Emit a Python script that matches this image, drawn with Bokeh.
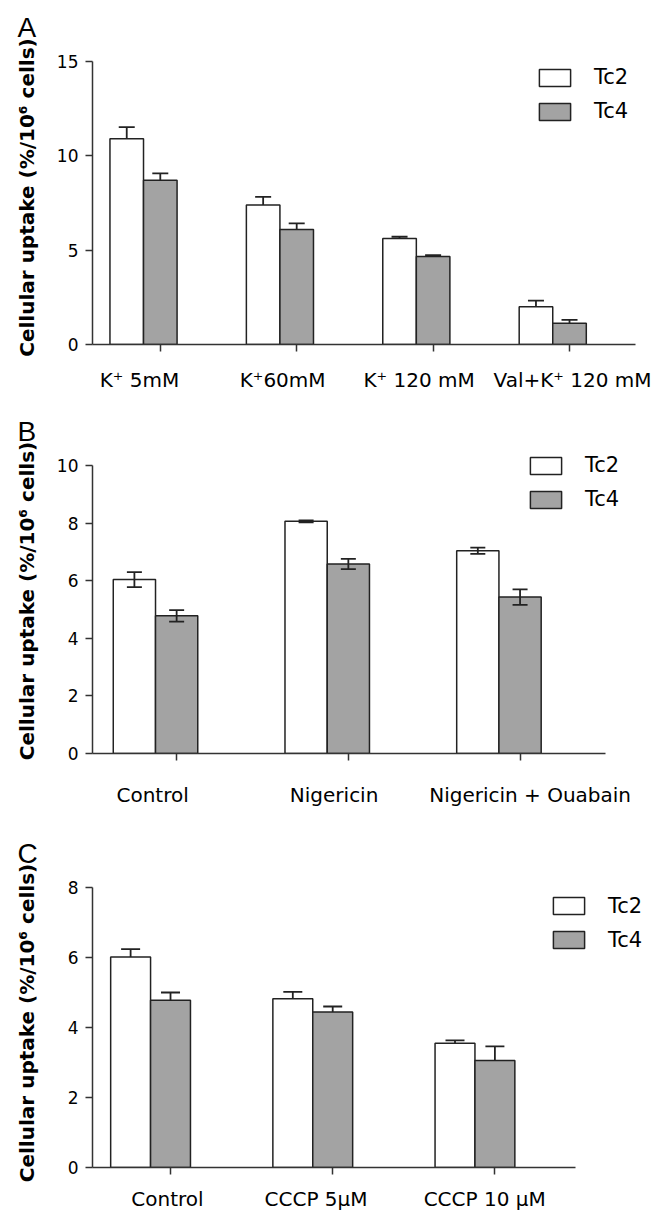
import numpy as np
from bokeh.plotting import figure
from bokeh.models import (ColumnDataSource, Whisker, TeeHead, FixedTicker, LinearAxis,
                          Range1d, Legend, LegendItem)
from bokeh.layouts import column
from bokeh.embed import file_html
from bokeh.resources import INLINE

# ---------------- data ----------------
series_names = ["Tc2", "Tc4"]

a_labels = ["K⁺ 5mM", "K⁺60mM", "K⁺ 120 mM", "Val+K⁺ 120 mM"]
a_tc2 = [10.9, 7.4, 5.62, 2.0]
a_tc2_err = [0.62, 0.42, 0.09, 0.33]
a_tc4 = [8.7, 6.09, 4.67, 1.12]
a_tc4_err = [0.37, 0.33, 0.06, 0.19]
a_yticks = [0, 5, 10, 15]

b_labels = ["Control", "Nigericin", "Nigericin +  Ouabain"]
b_tc2 = [6.04, 8.06, 7.04]
b_tc2_err = [0.26, 0.03, 0.11]
b_tc4 = [4.78, 6.58, 5.43]
b_tc4_err = [0.20, 0.18, 0.27]
b_yticks = [0, 2, 4, 6, 8, 10]

c_labels = ["Control", "CCCP 5µM", "CCCP 10 µM"]
c_tc2 = [6.01, 4.82, 3.55]
c_tc2_err = [0.23, 0.20, 0.08]
c_tc4 = [4.78, 4.44, 3.06]
c_tc4_err = [0.22, 0.16, 0.40]
c_yticks = [0, 2, 4, 6, 8]

y_title = "Cellular uptake (%/10⁶ cells)"

# ---------------- style / layout ----------------
BW = 0.246
EDGE = "#222222"
GRAY = "#a3a3a3"
AX = "#333333"
TXT = "#000000"


def make_panel(letter, labels, tc2, e2, tc4, e4, yticks, lay, two_sided):
    n = len(labels)
    idx = np.arange(n, dtype=float)
    tc2 = np.array(tc2, dtype=float)
    tc4 = np.array(tc4, dtype=float)
    e2 = np.array(e2, dtype=float)
    e4 = np.array(e4, dtype=float)
    src = ColumnDataSource(dict(
        x2=idx - BW / 2, x4=idx + BW / 2, tc2=tc2, tc4=tc4,
        up2=tc2 + e2, lo2=(tc2 - e2) if two_sided else tc2,
        up4=tc4 + e4, lo4=(tc4 - e4) if two_sided else tc4,
    ))
    p = figure(width=651, height=lay["h"],
               x_range=Range1d(*lay["xr"]), y_range=Range1d(0, lay["ytop"]),
               output_backend="svg", toolbar_location=None, tools="",
               min_border_left=92, min_border_right=3,
               min_border_top=lay["bt"], min_border_bottom=lay["bb"],
               x_axis_location=None, y_axis_location=None)
    p.outline_line_color = None
    p.xgrid.visible = False
    p.ygrid.visible = False

    p.title.text = letter
    p.title.align = "left"
    p.title.offset = lay["toff"]
    p.title.standoff = lay["tst"]
    p.title.vertical_align = "bottom"
    p.title.text_font = "Liberation Sans"
    p.title.text_font_size = "28px"
    p.title.text_font_style = "normal"
    p.title.text_color = TXT

    r2 = p.vbar(x="x2", top="tc2", bottom=0, width=BW, source=src,
                fill_color="white", line_color=EDGE, line_width=1.5)
    r4 = p.vbar(x="x4", top="tc4", bottom=0, width=BW, source=src,
                fill_color=GRAY, line_color=EDGE, line_width=1.5)

    for b, u, l in (("x2", "up2", "lo2"), ("x4", "up4", "lo4")):
        w = Whisker(base=b, upper=u, lower=l, source=src, line_color=EDGE, line_width=1.8,
                    upper_head=TeeHead(size=lay["tee"], line_color=EDGE, line_width=1.8),
                    lower_head=(TeeHead(size=lay["tee"], line_color=EDGE, line_width=1.8)
                                if two_sided else None),
                    level="overlay")
        p.add_layout(w)

    yax = LinearAxis(ticker=FixedTicker(ticks=yticks), bounds=(0, yticks[-1]),
                     major_tick_out=7, major_tick_in=0, minor_tick_out=0, minor_tick_in=0,
                     major_label_standoff=7, major_label_text_font="DejaVu Sans",
                     major_label_text_font_size="17px", major_label_text_color=TXT,
                     axis_line_color=AX, axis_line_width=1.5,
                     major_tick_line_color=AX, major_tick_line_width=1.5,
                     axis_label=y_title, axis_label_standoff=lay["als"],
                     axis_label_text_font="DejaVu Sans", axis_label_text_font_style="bold",
                     axis_label_text_font_size="20px", axis_label_text_color=TXT)
    p.add_layout(yax, "left")

    tick_pos = [float(v) for v in idx + BW / 2]
    xax1 = LinearAxis(ticker=FixedTicker(ticks=tick_pos), bounds=lay["xb"],
                      major_tick_out=7, major_tick_in=0, minor_tick_out=0, minor_tick_in=0,
                      major_label_standoff=0, major_label_text_font_size="0px",
                      major_label_overrides={v: "" for v in tick_pos},
                      axis_line_color=AX, axis_line_width=1.5,
                      major_tick_line_color=AX, major_tick_line_width=1.5)
    p.add_layout(xax1, "below")

    lab_pos = [float(round(i + s, 4)) for i, s in zip(range(n), lay["shift"])]
    xax2 = LinearAxis(ticker=FixedTicker(ticks=lab_pos),
                      major_tick_out=0, major_tick_in=0, minor_tick_out=0, minor_tick_in=0,
                      major_tick_line_color=None, axis_line_color=None,
                      major_label_standoff=lay["ls"],
                      major_label_overrides={pos: lab for pos, lab in zip(lab_pos, labels)},
                      major_label_text_font="DejaVu Sans", major_label_text_font_size="20px",
                      major_label_text_color=TXT)
    p.add_layout(xax2, "below")

    leg = Legend(items=[LegendItem(label=series_names[0], renderers=[r2]),
                        LegendItem(label=series_names[1], renderers=[r4])],
                 location=lay["leg"], glyph_width=39, glyph_height=21, label_standoff=20,
                 spacing=10, padding=0, margin=0, border_line_color=None,
                 background_fill_alpha=0)
    leg.label_text_font = "DejaVu Sans"
    leg.label_text_font_size = "21px"
    leg.label_text_color = TXT
    p.add_layout(leg)
    return p


lay_a = dict(h=398, bt=50, bb=54, ytop=15.583, xr=(-0.374, 3.702), xb=(-0.374, 3.607),
             shift=[-0.03, 0.02, 0.02, 0.19], toff=-75, tst=16, als=15,
             leg=(443, 221), ls=16, tee=16)
lay_b = dict(h=414, bt=50, bb=59, ytop=10.59, xr=(-0.367, 2.871), xb=(-0.367, 2.62),
             shift=[-0.017, 0.04, 0.2], toff=-75, tst=4, als=15,
             leg=(434, 242), ls=22, tee=15)
lay_c = dict(h=401, bt=66, bb=45, ytop=8.256, xr=(-0.358, 3.07), xb=(-0.358, 2.62),
             shift=[0.104, 0.02, 0.06], toff=-75, tst=20, als=26,
             leg=(457, 215.3), ls=12, tee=19)

pa = make_panel("A", a_labels, a_tc2, a_tc2_err, a_tc4, a_tc4_err, a_yticks, lay_a, False)
pb = make_panel("B", b_labels, b_tc2, b_tc2_err, b_tc4, b_tc4_err, b_yticks, lay_b, True)
pc = make_panel("C", c_labels, c_tc2, c_tc2_err, c_tc4, c_tc4_err, c_yticks, lay_c, False)

layout = column(pa, pb, pc, spacing=0)
open("out.html", "w").write(file_html(layout, INLINE))
